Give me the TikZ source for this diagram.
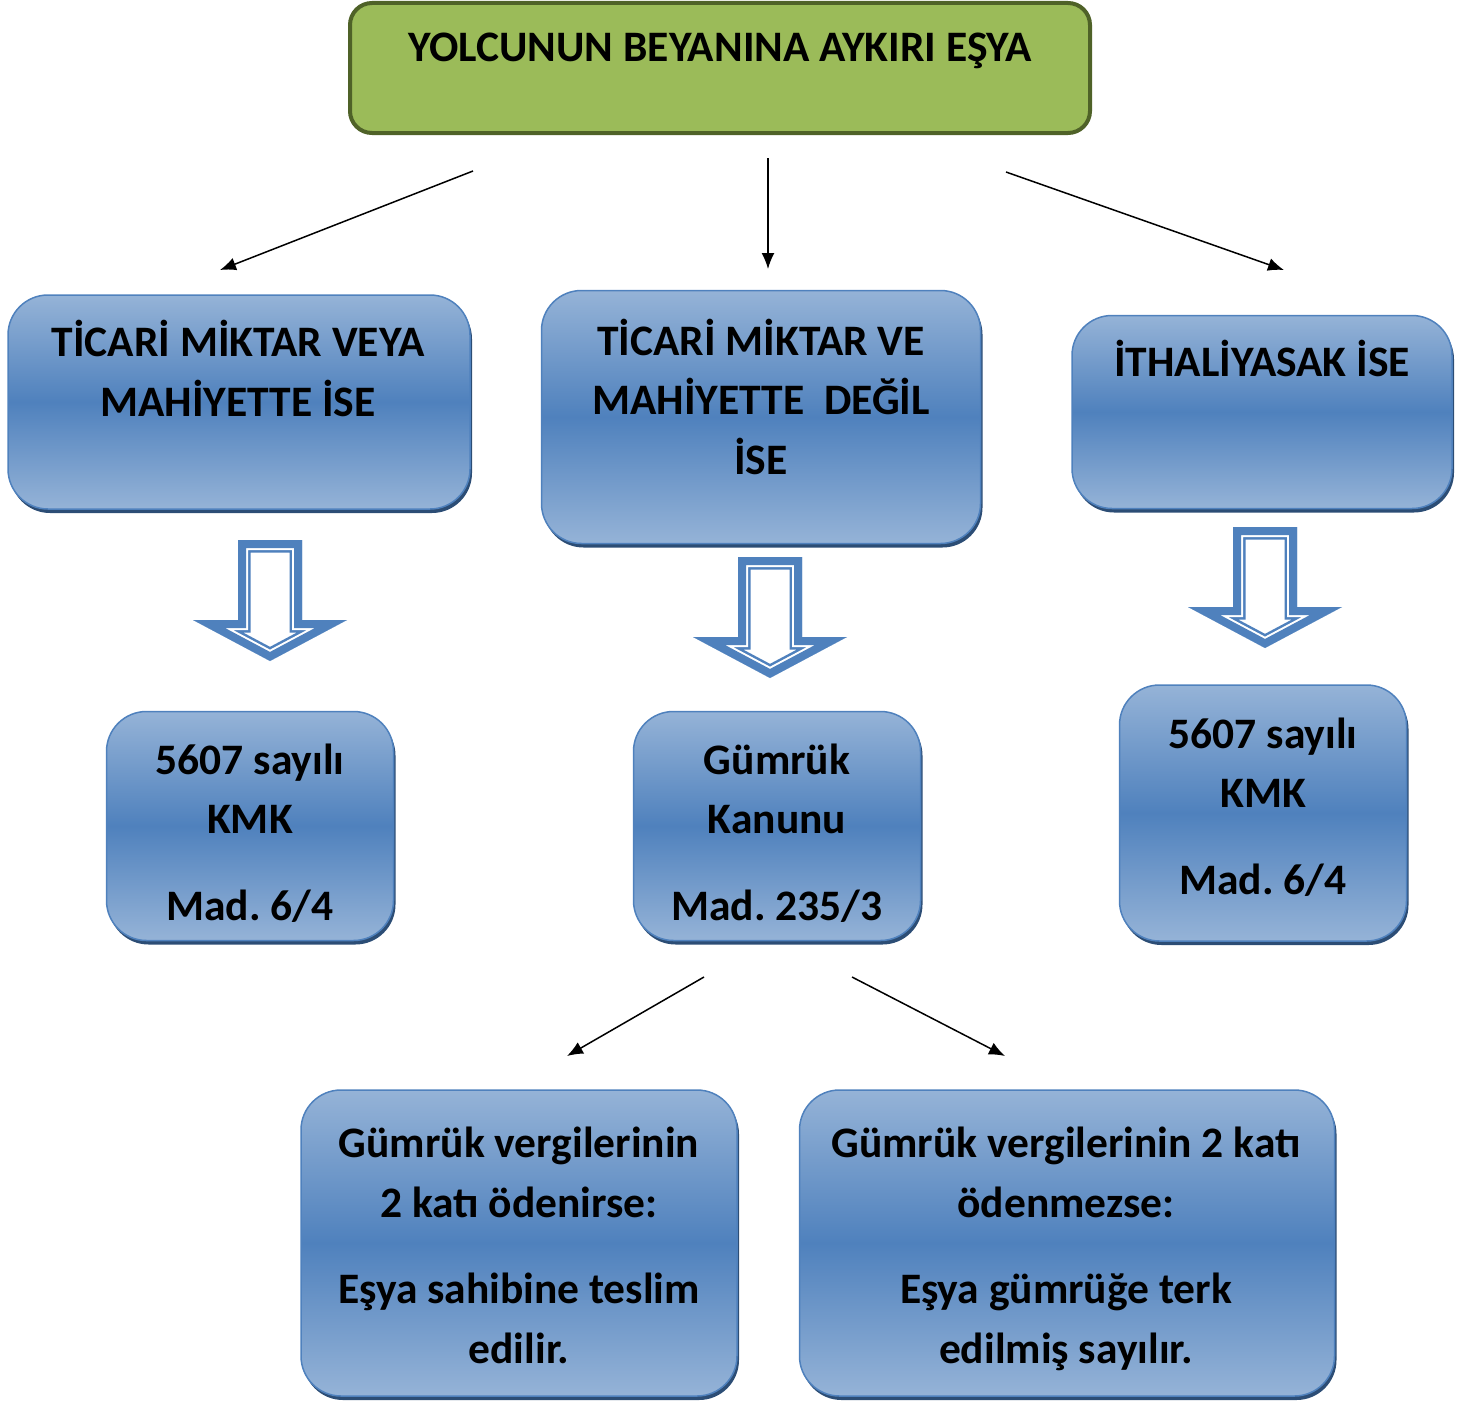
\documentclass[tikz,border=0pt]{standalone}
\usepackage{fontspec}
\setmainfont{Carlito}
\usetikzlibrary{arrows.meta}
\frenchspacing

\definecolor{bluemd}{HTML}{4F81BD}
\definecolor{bluelt}{HTML}{95B3D7}
\definecolor{blueshd}{HTML}{2C4D75}
\definecolor{greenfill}{HTML}{9BBB59}
\definecolor{greenline}{HTML}{4F6228}

% outline of the hollow block arrow, top of the shaft at (0,0)
\newcommand\holpath{(-32,0) -- (32,0) -- (32,80) -- (77,80) -- (0,121) -- (-77,80) -- (-32,80) -- cycle}

\tikzset{
  bluebox/.style={draw=bluemd, line width=1.5pt, rounded corners=40pt,
    top color=bluelt, bottom color=bluelt, middle color=bluemd,
    preaction={fill=blueshd, transform canvas={xshift=2pt,yshift=-4pt}}},
  greenbox/.style={draw=greenline, line width=4pt, rounded corners=22pt, fill=greenfill},
  txt/.style={font=\bfseries\fontsize{43.5}{59.5}\selectfont, align=center, inner sep=0pt, anchor=base},
  link/.style={->, >={Latex[length=16pt,width=13pt]}, line width=1.5pt}
}

\begin{document}
\begin{tikzpicture}[x=1pt, y=-1pt]
    \useasboundingbox (0,0) rectangle (1469,1405);

    % boxes
    \node[greenbox, minimum width=740, minimum height=130] (esya) at (720,68) {};
    \node[bluebox, minimum width=462, minimum height=214] (ticariveya) at (239,402) {};
    \node[bluebox, minimum width=439, minimum height=253] (ticarideg) at (761,417) {};
    \node[bluebox, minimum width=380, minimum height=193] (ithal) at (1262,412) {};
    \node[bluebox, minimum width=287, minimum height=229] (kmka) at (250,826) {};
    \node[bluebox, minimum width=287, minimum height=229] (gumruk) at (777,826) {};
    \node[bluebox, minimum width=287, minimum height=256] (kmkb) at (1263,813) {};
    \node[bluebox, minimum width=436, minimum height=306] (odenir) at (519,1243) {};
    \node[bluebox, minimum width=535, minimum height=306] (odenmez) at (1067,1243) {};

    % texts (anchored at the baseline of their last line)
    \node[txt] (esya-t) at (720,62) {YOLCUNUN BEYANINA AYKIRI EŞYA};
    \node[txt] (ticariveya-t) at (238,416) {TİCARİ MİKTAR VEYA\\MAHİYETTE İSE};
    \node[txt] (ticarideg-t) at (761,474) {TİCARİ MİKTAR VE\\MAHİYETTE~~DEĞİL\\İSE};
    \node[txt] (ithal-t) at (1262,376) {İTHALİYASAK İSE};
    \node[txt] (kmka-t) at (250,920) {5607 sayılı\\KMK\\[27pt]Mad. 6/4};
    \node[txt] (gumruk-t) at (777,920) {Gümrük\\Kanunu\\[27pt]Mad. 235/3};
    \node[txt] (kmkb-t) at (1263,894) {5607 sayılı\\KMK\\[27pt]Mad. 6/4};
    \node[txt] (odenir-t) at (519,1363) {Gümrük vergilerinin\\2 katı ödenirse:\\[27pt]Eşya sahibine teslim\\edilir.};
    \node[txt] (odenmez-t) at (1066,1363) {Gümrük vergilerinin 2 katı\\ödenmezse:\\[27pt]Eşya gümrüğe terk\\edilmiş sayılır.};

    % thin arrows
    \coordinate (s1) at (473,171);  \coordinate (e1) at (220,270);
    \coordinate (s2) at (768,158);  \coordinate (e2) at (768,269);
    \coordinate (s3) at (1006,172); \coordinate (e3) at (1284,270);
    \coordinate (s4) at (704,977);  \coordinate (e4) at (567,1056);
    \coordinate (s5) at (852,977);  \coordinate (e5) at (1005,1056);
    \foreach \i in {1,...,5}
        \draw[link] (s\i) -- (e\i);

    % hollow block arrows
    \foreach \x/\y in {270/540, 770/557, 1265/527}
    {
      \begin{scope}[shift={(\x,\y)}, line join=miter]
        \clip \holpath;
        \fill[white] \holpath;
        \draw[bluemd, line width=25pt] \holpath;
        \draw[white, line width=20pt] \holpath;
        \draw[bluemd, line width=16pt] \holpath;
      \end{scope}
    }
\end{tikzpicture}
\end{document}
